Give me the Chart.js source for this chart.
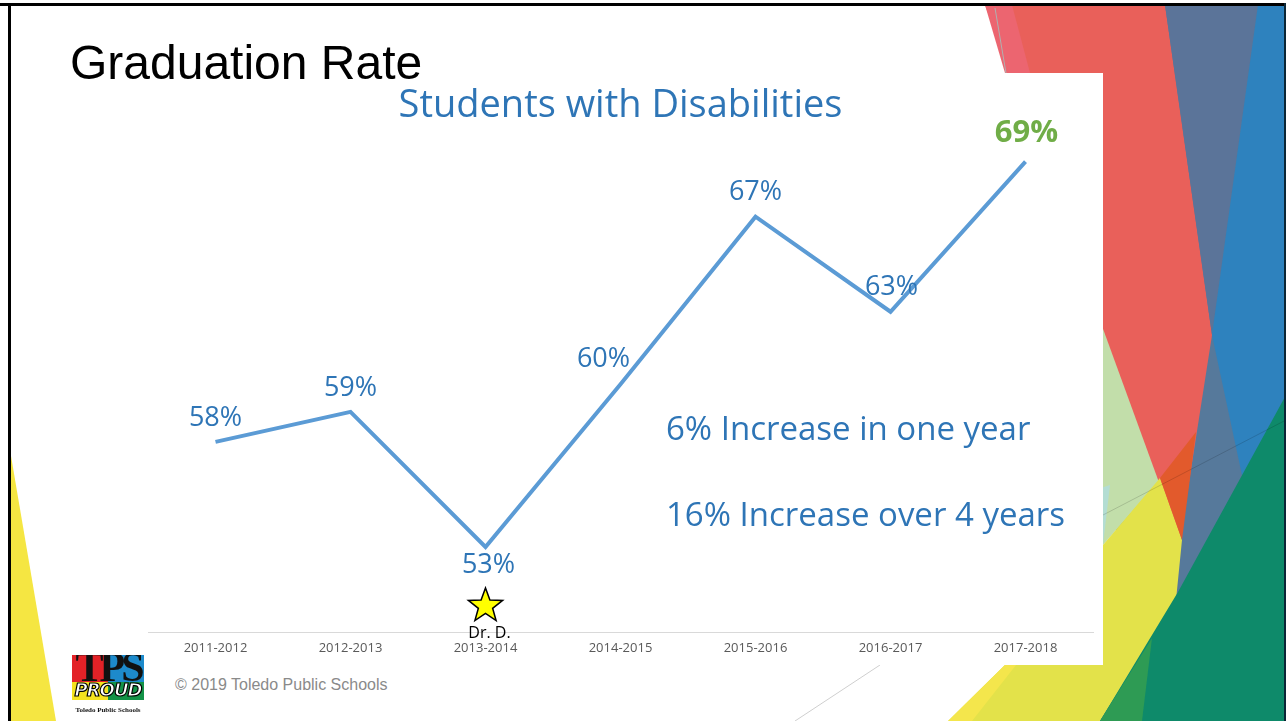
<!DOCTYPE html>
<html>
<head>
<meta charset="utf-8">
<script src="https://cdn.jsdelivr.net/npm/chart.js@4.4.1/dist/chart.umd.min.js"></script>
<style>
  html, body { margin:0; padding:0; background:#fff; }
  #slide { position:relative; width:1286px; height:721px; overflow:hidden; background:#fff; }
  #deco { position:absolute; left:0; top:0; }
  #chartBox { position:absolute; left:137px; top:73px; width:966px; height:592px; background:#fff; }
  .hdr { position:absolute; left:70px; top:39px; font:48px/48px "Liberation Sans", Arial, sans-serif; color:#000; white-space:nowrap; }
  .note { position:absolute; left:666px; font:33px/36px "Open Sans", sans-serif; color:#2E75B6; white-space:nowrap; }
  .copy { position:absolute; left:175px; top:676px; font:16px/18px "Liberation Sans", Arial, sans-serif; color:#8a8a8a; white-space:nowrap; }
  #logo { position:absolute; left:72px; top:655px; width:72px; height:60px; overflow:hidden; }
  #logo .blk { position:absolute; }
  #logo .tps { position:absolute; left:-2px; top:-9px; width:76px; text-align:center; font:bold 42px/42px "Liberation Serif", serif; color:#111; letter-spacing:-4px; }
  #logo .proud { position:absolute; left:0; top:25px; width:72px; text-align:center; font:italic bold 18px/20px "DejaVu Sans", sans-serif; color:#fff; -webkit-text-stroke:1.2px #000; letter-spacing:-1px; }
  #logo .tag { position:absolute; left:0; top:51px; width:72px; text-align:center; font:bold 7px/8px "Liberation Serif", serif; color:#111; white-space:nowrap; }
</style>
</head>
<body>
<div id="slide">
  <svg id="deco" width="1286" height="721">
    <polygon points="10,450 10,721 56,721" fill="#F5E642"/>
    <polygon points="1160,5 1286,5 1286,721 1100,721" fill="#56799B"/>
    <polygon points="1060,200 1160,480 1103,545 1060,560" fill="#C2DEAA"/>
    <polygon points="1095,490 1110,485 1103,545 1095,545" fill="#B3DDD3"/>
    <polygon points="985,5 1165,5 1212,335 1180,540" fill="#E9605A"/>
    <polygon points="985,5 1012,5 1030,73 1005,73" fill="#EC6570"/>
    <polygon points="1160,478 1182,540 1176,600 1100,721 948,721 1010,660 1103,545" fill="#E3E24A"/>
    <polygon points="948,721 1010,660 1020,660 972,721" fill="#F4E64C"/>
    <polygon points="1160,478 1196,432 1182,540" fill="#E25A2C"/>
    <polygon points="1165,5 1258,5 1212,335" fill="#5B7499"/>
    <polygon points="1258,5 1286,5 1286,395 1243,480 1212,335" fill="#2E82BE"/>
    <polygon points="1286,395 1286,721 1100,721 1178,592" fill="#0E8A6A"/>
    <polygon points="1100,721 1152,638 1142,721" fill="#2E9B54"/>
    <line x1="995" y1="8" x2="1006" y2="73" stroke="#b0b0b0" stroke-width="1"/>
    <line x1="795" y1="721" x2="880" y2="665" stroke="#cfcfcf" stroke-width="1"/>
    <line x1="1103" y1="515" x2="1286" y2="420" stroke="rgba(0,0,0,0.15)" stroke-width="1"/>
    <rect x="0" y="3" width="1286" height="3" fill="#000"/>
    <rect x="8" y="3" width="3" height="718" fill="#000"/>
    <rect x="1284" y="3" width="2" height="718" fill="#0b2636"/>
  </svg>

  <div id="chartBox"><canvas id="chartGrad"></canvas></div>

  <div class="hdr">Graduation Rate</div>
  <div class="note" style="top:410px">6% Increase in one year</div>
  <div class="note" style="top:496px">16% Increase over 4 years</div>

  <div id="logo">
    <div class="blk" style="left:0;top:0;width:36px;height:27px;background:#E32227"></div>
    <div class="blk" style="left:36px;top:0;width:36px;height:27px;background:#1D8ACB"></div>
    <div class="blk" style="left:0;top:27px;width:36px;height:18px;background:#F4E21E"></div>
    <div class="blk" style="left:36px;top:27px;width:36px;height:18px;background:#139247"></div>
    <div class="tps">TPS</div>
    <div class="proud">PROUD</div>
    <div class="tag">Toledo Public Schools</div>
  </div>

  <div class="copy">© 2019 Toledo Public Schools</div>
</div>

<script>
// ── data ──────────────────────────────────────────────────────────────────
const seasons  = ['2011-2012','2012-2013','2013-2014','2014-2015','2015-2016','2016-2017','2017-2018'];
const gradRate = [57.6, 58.8, 53.4, 59.9, 66.6, 62.8, 68.8];
const starSeason = '2013-2014';
const starLabel  = 'Dr. D.';

// label placement relative to each point (dx, dy)
const labelPlace = [[0,-24],[0,-24],[3,18],[-17,-25],[0,-24],[1,-24],[1,-28]];

const BLUE_TXT = '#2E75B6';
const TXT_FONT = '"Open Sans", sans-serif';

// value labels next to points; the latest year is called out in green
const pointLabels = {
  id: 'pointLabels',
  afterDatasetsDraw(chart) {
    const ctx  = chart.ctx;
    const meta = chart.getDatasetMeta(0);
    const vals = chart.data.datasets[0].data;
    meta.data.forEach((pt, i) => {
      const last = i === vals.length - 1;
      ctx.save();
      ctx.font = last ? `bold 31px ${TXT_FONT}` : `27px ${TXT_FONT}`;
      ctx.fillStyle = last ? '#70AD47' : BLUE_TXT;
      ctx.textAlign = 'center';
      ctx.textBaseline = 'middle';
      ctx.fillText(Math.round(vals[i]) + '%', pt.x + labelPlace[i][0], pt.y + labelPlace[i][1]);
      ctx.restore();
    });
  }
};

// star marker under the 2013-2014 season
const starMark = {
  id: 'starMark',
  afterDraw(chart) {
    const ctx = chart.ctx;
    const x = chart.scales.x.getPixelForValue(seasons.indexOf(starSeason));
    const base = chart.chartArea.bottom;
    const cy = base - 26, R = 18, r = 7.5;
    ctx.save();
    ctx.beginPath();
    for (let k = 0; k < 10; k++) {
      const a = -Math.PI / 2 + k * Math.PI / 5;
      const rad = k % 2 ? r : R;
      const px = x + rad * Math.cos(a), py = cy + rad * Math.sin(a);
      k ? ctx.lineTo(px, py) : ctx.moveTo(px, py);
    }
    ctx.closePath();
    ctx.fillStyle = '#FFFF00';
    ctx.fill();
    ctx.lineWidth = 1.5;
    ctx.strokeStyle = '#000';
    ctx.stroke();
    ctx.font = `16px ${TXT_FONT}`;
    ctx.fillStyle = '#000';
    ctx.textAlign = 'center';
    ctx.textBaseline = 'middle';
    ctx.fillText(starLabel, x + 4, base + 1);
    ctx.restore();
  }
};

new Chart(document.getElementById('chartGrad'), {
  type: 'line',
  data: {
    labels: seasons,
    datasets: [{
      data: gradRate,
      borderColor: '#5B9BD5',
      borderWidth: 4,
      pointRadius: 0,
      tension: 0,
      fill: false
    }]
  },
  options: {
    responsive: true,
    maintainAspectRatio: false,
    animation: false,
    layout: { padding: { left: 11, right: 10, top: 0, bottom: 0 } },
    plugins: {
      legend: { display: false },
      tooltip: { enabled: false },
      title: {
        display: true,
        text: 'Students with Disabilities',
        color: BLUE_TXT,
        font: { family: TXT_FONT, size: 38, weight: 'normal', lineHeight: 1.2 },
        padding: { top: 10, bottom: 3 }
      }
    },
    scales: {
      x: {
        offset: true,
        grid: { display: false, drawTicks: false },
        border: { display: true, color: '#D9D9D9', width: 1 },
        ticks: { color: '#595959', font: { family: TXT_FONT, size: 13 }, padding: 8, maxRotation: 0 },
        afterFit(scale) { scale.height = 33; }
      },
      y: {
        display: false,
        min: 50,
        max: 70
      }
    }
  },
  plugins: [pointLabels, starMark]
});
</script>
</body>
</html>
